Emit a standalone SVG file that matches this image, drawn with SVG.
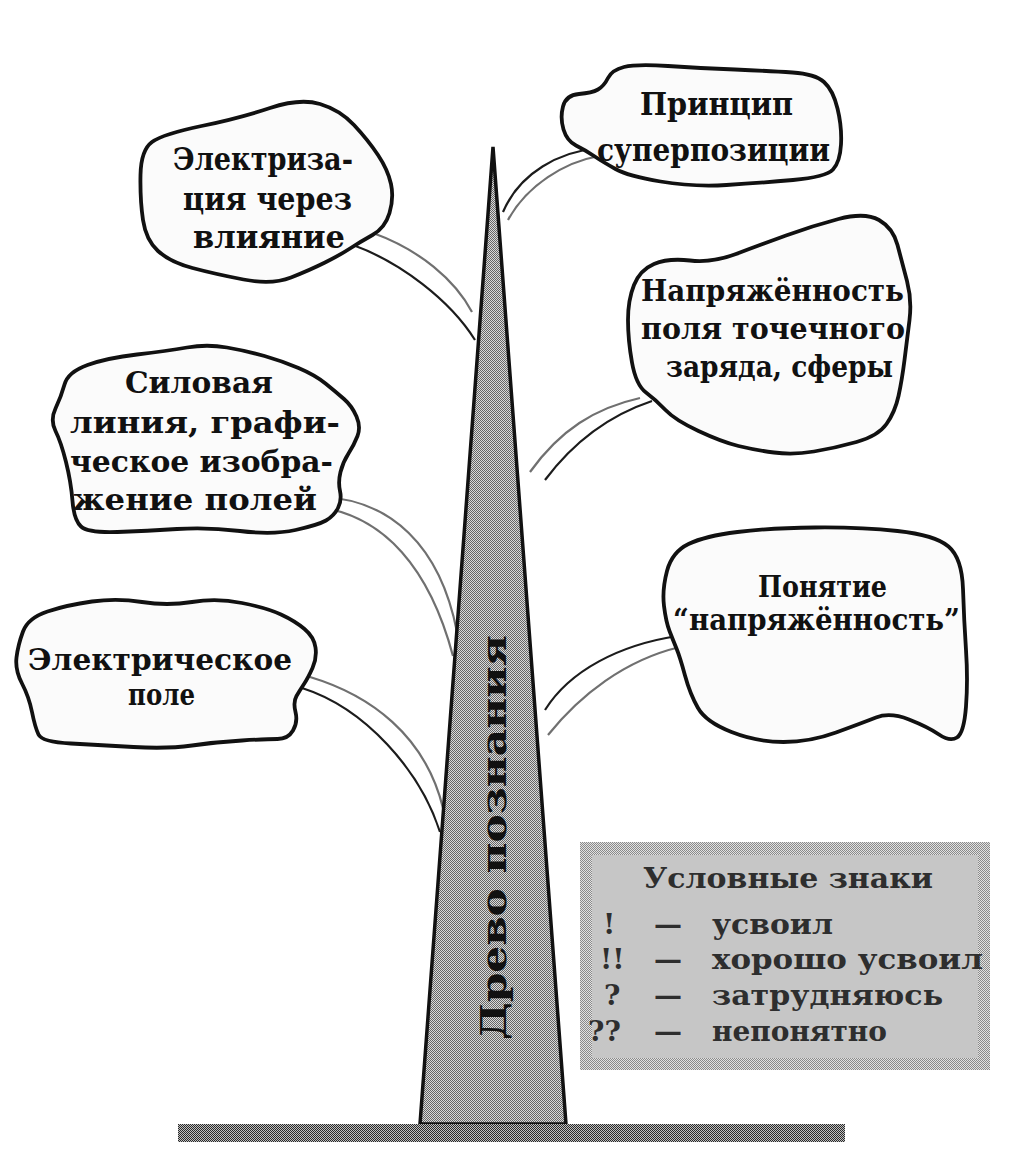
<svg xmlns="http://www.w3.org/2000/svg" width="1019" height="1157" viewBox="0 0 1019 1157">
<defs>
<pattern id="dotsMid" width="2" height="2" patternUnits="userSpaceOnUse"><rect width="2" height="2" fill="#dadada"/><rect width="1" height="1" fill="#666"/><rect x="1" y="1" width="1" height="1" fill="#666"/></pattern>
<pattern id="dotsDark" width="2" height="2" patternUnits="userSpaceOnUse"><rect width="2" height="2" fill="#c0c0c0"/><rect width="1" height="1" fill="#2a2a2a"/><rect x="1" y="1" width="1" height="1" fill="#2a2a2a"/></pattern>
<pattern id="dotsLight" width="2" height="2" patternUnits="userSpaceOnUse"><rect width="2" height="2" fill="#e2e2e2"/><rect width="1" height="1" fill="#8a8a8a"/><rect x="1" y="1" width="1" height="1" fill="#8a8a8a"/></pattern>
</defs>
<style>
.cloud{fill:#fbfbfb;stroke:#111;stroke-width:3.8;stroke-linejoin:round}
.t{font-family:"DejaVu Serif","Liberation Serif",serif;font-weight:bold;fill:#111}
.lg{font-family:"DejaVu Serif","Liberation Serif",serif;font-weight:bold;fill:#2e2e2e;font-size:28px}
.c1{fill:none;stroke:#1c1c1c;stroke-width:2.2}
.c2{fill:none;stroke:#707070;stroke-width:2.2}
</style>
<rect width="1019" height="1157" fill="#ffffff"/>

<g id="connectors">
<path class="c2" d="M373,233 C420,250 455,280 472,312"/>
<path class="c1" d="M353,245 C400,262 450,300 475,340"/>
<path class="c1" d="M597,148 C560,152 520,172 503,212"/>
<path class="c2" d="M599,156 C565,162 527,185 508,220"/>
<path class="c2" d="M640,398 C595,408 560,430 530,472"/>
<path class="c1" d="M652,401 C610,415 575,440 545,480"/>
<path class="c2" d="M323,497 C390,500 440,545 457,632"/>
<path class="c2" d="M317,507 C385,515 430,570 453,656"/>
<path class="c2" d="M310,677 C370,695 425,735 443,808"/>
<path class="c1" d="M302,688 C365,708 420,770 440,832"/>
<path class="c1" d="M677,636 C620,645 570,670 545,710"/>
<path class="c2" d="M680,647 C625,660 580,695 548,735"/>
</g>

<g id="trunk">
<polygon points="493,147 420,1124 566,1124" fill="url(#dotsMid)" stroke="#111" stroke-width="3.5" stroke-linejoin="miter"/>
<text class="t" transform="translate(506,1040) rotate(-90)" x="0" y="0" font-size="36" textLength="405" lengthAdjust="spacingAndGlyphs" fill="#333">Древо познания</text>
</g>

<g id="ground">
<rect x="178" y="1124" width="667" height="18" fill="url(#dotsDark)"/>
</g>

<g id="node-elektrizatsiya">
<path class="cloud" d="M140.5,175 Q141,150 152,142 Q163,134 201.5,126 Q240,118 270,108 Q300,98 320,104 Q340,110 354,125 Q368,140 378,155 Q388,170 391,184 Q394,198 389.5,213 Q385,228 372.5,235 Q360,242 350,248.5 Q340,255 325,262.5 Q310,270 291,277.5 Q272,285 243.5,279.5 Q215,274 192.5,268 Q170,262 158,251 Q146,240 143,220 Q140,200 140.5,175 Z"/>
<text class="t" font-size="32" x="173" y="170" textLength="180" lengthAdjust="spacingAndGlyphs">Электриза-</text>
<text class="t" font-size="32" x="183" y="210" textLength="169" lengthAdjust="spacingAndGlyphs">ция через</text>
<text class="t" font-size="32" x="193" y="248" textLength="152" lengthAdjust="spacingAndGlyphs">влияние</text>
</g>

<g id="node-superpozitsiya">
<path class="cloud" d="M563,106.5 Q566,95 579,94 Q592,93 598,89.5 Q604,86 608,78 Q612,70 624,67 Q636,64 668,66 Q700,68 735,69.5 Q770,71 792.5,72.5 Q815,74 824,82 Q833,90 837.5,108.5 Q842,127 841,144.5 Q840,162 833,169.5 Q826,177 793,180 Q760,183 726.5,185 Q693,187 660.5,181.5 Q628,176 615.5,169 Q603,162 594,156 Q585,150 576,145.5 Q567,141 563.5,129.5 Q560,118 563,106.5 Z"/>
<text class="t" font-size="31" x="640" y="115" textLength="153" lengthAdjust="spacingAndGlyphs">Принцип</text>
<text class="t" font-size="31" x="597" y="161" textLength="233" lengthAdjust="spacingAndGlyphs">суперпозиции</text>
</g>

<g id="node-napryazhennost-polya">
<path class="cloud" d="M628,320 Q628,300 634,285 Q640,270 654,264 Q668,258 690,260.5 Q712,263 736,254 Q760,245 786,235.5 Q812,226 838.5,219 Q865,212 879,220 Q893,228 897.5,245 Q902,262 907,281 Q912,300 909.5,320 Q907,340 904.5,360 Q902,380 898.5,396 Q895,412 886.5,424 Q878,436 856.5,442 Q835,448 814,451.5 Q793,455 774,452.5 Q755,450 738.5,446 Q722,442 698.5,431 Q675,420 665.5,410 Q656,400 646,392.5 Q636,385 632,362.5 Q628,340 628,320 Z"/>
<text class="t" font-size="29" x="641" y="301" textLength="263" lengthAdjust="spacingAndGlyphs">Напряжённость</text>
<text class="t" font-size="29" x="641" y="339" textLength="264" lengthAdjust="spacingAndGlyphs">поля точечного</text>
<text class="t" font-size="29" x="666" y="377" textLength="227" lengthAdjust="spacingAndGlyphs">заряда, сферы</text>
</g>

<g id="node-silovaya-liniya">
<path class="cloud" d="M64.5,384.5 Q68,372 87.5,365 Q107,358 137,354.5 Q167,351 187,347.5 Q207,344 227,347.5 Q247,351 264.5,356 Q282,361 298.5,368 Q315,375 325.5,383.5 Q336,392 344,399 Q352,406 356.5,416.5 Q361,427 357.5,436 Q354,445 348.5,453.5 Q343,462 340.5,472 Q338,482 340,491 Q342,500 338,508 Q334,516 326,520.5 Q318,525 295.5,530 Q273,535 240,531 Q207,527 177,529 Q147,531 117.5,532 Q88,533 81,526.5 Q74,520 72.5,501 Q71,482 66,462 Q61,442 55.5,431 Q50,420 55.5,408.5 Q61,397 64.5,384.5 Z"/>
<text class="t" font-size="29" x="125" y="393" textLength="148" lengthAdjust="spacingAndGlyphs">Силовая</text>
<text class="t" font-size="29" x="70" y="433" textLength="270" lengthAdjust="spacingAndGlyphs">линия, графи-</text>
<text class="t" font-size="29" x="70" y="472" textLength="263" lengthAdjust="spacingAndGlyphs">ческое изобра-</text>
<text class="t" font-size="29" x="72" y="510" textLength="245" lengthAdjust="spacingAndGlyphs">жение полей</text>
</g>

<g id="node-elektricheskoe-pole">
<path class="cloud" d="M23,631.5 Q28,618 47.5,611.5 Q67,605 92,601.5 Q117,598 142,602 Q167,606 192,602 Q217,598 242,603 Q267,608 281,614.5 Q295,621 304.5,629 Q314,637 315.5,647.5 Q317,658 312.5,668 Q308,678 304,684 Q300,690 296.5,696 Q293,702 295.5,712 Q298,722 293,730.5 Q288,739 277.5,739 Q267,739 242,740.5 Q217,742 192,745.5 Q167,749 133.5,747 Q100,745 71,743.5 Q42,742 38.5,734.5 Q35,727 32,712 Q29,697 22,683.5 Q15,670 16.5,657.5 Q18,645 23,631.5 Z"/>
<text class="t" font-size="30" x="28" y="670" textLength="264" lengthAdjust="spacingAndGlyphs">Электрическое</text>
<text class="t" font-size="30" x="128" y="705" textLength="67" lengthAdjust="spacingAndGlyphs">поле</text>
</g>

<g id="node-ponyatie">
<path class="cloud" d="M667,571 Q672,552 688.5,544 Q705,536 737.5,532 Q770,528 815,527.5 Q860,527 897.5,531 Q935,535 948.5,546.5 Q962,558 963,589 Q964,620 966,650 Q968,680 966,706.5 Q964,733 957,737.5 Q950,742 939,734.5 Q928,727 909,719.5 Q890,712 876,717.5 Q862,723 836,732.5 Q810,742 783.5,742 Q757,742 731.5,732 Q706,722 698,708 Q690,694 685,675.5 Q680,657 676.5,648.5 Q673,640 669.5,631 Q666,622 664,606 Q662,590 667,571 Z"/>
<text class="t" font-size="30" x="758" y="597" textLength="129" lengthAdjust="spacingAndGlyphs">Понятие</text>
<text class="t" font-size="30" x="673" y="630" textLength="287" lengthAdjust="spacingAndGlyphs">“напряжённость”</text>
</g>

<g id="legend">
<rect x="580" y="842" width="410" height="228" fill="url(#dotsLight)"/>
<rect x="592" y="855" width="386" height="203" fill="#c6c6c6"/>
<text class="lg" font-size="30" x="643" y="888" textLength="290" lengthAdjust="spacingAndGlyphs">Условные знаки</text>
<text class="lg" x="603" y="934">!</text>
<text class="lg" x="654" y="934">—</text>
<text class="lg" x="712" y="934" textLength="121" lengthAdjust="spacingAndGlyphs">усвоил</text>
<text class="lg" x="600" y="969">!!</text>
<text class="lg" x="654" y="969">—</text>
<text class="lg" x="712" y="969" textLength="271" lengthAdjust="spacingAndGlyphs">хорошо усвоил</text>
<text class="lg" x="604" y="1005">?</text>
<text class="lg" x="654" y="1005">—</text>
<text class="lg" x="712" y="1005" textLength="231" lengthAdjust="spacingAndGlyphs">затрудняюсь</text>
<text class="lg" x="588" y="1041">??</text>
<text class="lg" x="654" y="1041">—</text>
<text class="lg" x="712" y="1041" textLength="175" lengthAdjust="spacingAndGlyphs">непонятно</text>
</g>
</svg>
